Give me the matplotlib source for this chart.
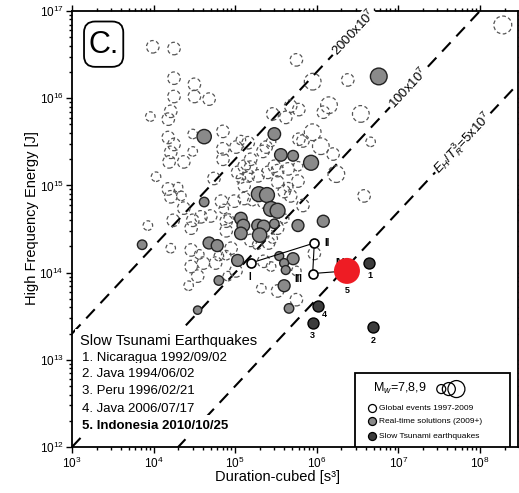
import numpy as np
import matplotlib
matplotlib.use("Agg")
import matplotlib.pyplot as plt
from matplotlib.patches import Rectangle, FancyBboxPatch

plt.rcParams["font.family"] = ["Liberation Sans", "DejaVu Sans"]
plt.rcParams["mathtext.fontset"] = "custom"
plt.rcParams["mathtext.rm"] = "Liberation Sans"
plt.rcParams["mathtext.it"] = "Liberation Sans:italic"
plt.rcParams["mathtext.bf"] = "Liberation Sans:bold"

# log10 of duration-cubed [s^3] and high-frequency energy [J], plus Mw
# Global events 1997-2009 (open circles)
global_logT3 = [3.99, 4.25, 4.25, 4.50, 4.50, 4.25, 4.68, 4.21, 4.18, 3.96,
                4.48, 4.18, 4.25, 4.21, 4.48, 4.19, 4.37, 4.85, 4.85, 4.85,
                5.07, 5.16, 4.03, 4.18, 4.30, 4.21, 4.34, 4.37, 4.24, 3.93,
                4.48, 4.58, 4.70, 4.46, 4.21, 4.46, 4.56, 4.46, 4.54, 4.43,
                4.74, 4.83, 4.86, 4.99, 5.11, 5.21, 5.11, 5.19, 5.07, 5.11,
                5.03, 5.16, 5.28, 5.19, 4.89, 4.92, 4.89, 4.61, 4.76, 4.80,
                5.19, 5.27, 5.41, 5.46, 4.95, 4.89, 5.01, 4.91, 5.35, 5.44,
                5.52, 5.60, 5.60, 5.68, 5.65, 5.77, 5.40, 5.52, 5.65, 5.48,
                5.77, 5.52, 5.35, 5.83, 5.75, 5.95, 6.38, 8.28, 5.68, 5.78,
                6.15, 6.08, 6.54, 5.62, 5.46, 5.95, 5.83, 6.05, 6.20, 6.24,
                5.34, 5.44, 6.66, 6.58, 5.97, 5.75, 5.52, 5.32, 5.75, 5.01,
                5.38, 5.78]
global_logE = [16.59, 16.57, 16.23, 16.16, 16.02, 16.02, 15.99, 15.85, 15.76, 15.79,
               15.59, 15.55, 15.47, 15.38, 15.39, 15.27, 15.27, 15.62, 15.42, 15.30,
               15.52, 15.49, 15.10, 14.96, 14.98, 14.87, 14.88, 14.74, 14.60, 14.54,
               14.60, 14.64, 14.65, 14.51, 14.28, 14.26, 14.21, 14.07, 13.96, 13.85,
               15.08, 14.82, 14.73, 14.82, 14.85, 14.82, 15.22, 15.21, 15.08, 15.00,
               15.15, 15.11, 15.11, 15.30, 14.59, 14.62, 14.48, 14.11, 14.11, 14.19,
               14.37, 14.32, 14.34, 14.39, 14.28, 14.20, 14.02, 13.96, 14.13, 14.07,
               14.51, 14.62, 14.93, 14.88, 14.98, 15.05, 15.15, 15.17, 15.19, 15.22,
               15.22, 15.04, 14.81, 14.77, 16.44, 16.19, 16.21, 16.84, 15.91, 15.87,
               15.92, 15.84, 15.82, 15.78, 15.82, 15.61, 15.51, 15.45, 15.36, 15.13,
               15.39, 15.50, 15.50, 14.88, 14.22, 13.69, 13.79, 13.82, 14.02, 15.44,
               15.44, 15.53]
global_mw = [7.5, 7.5, 7.5, 7.5, 7.5, 7.5, 7.5, 7.5, 7.5, 7.0,
             7.0, 7.5, 7.5, 7.5, 7.0, 7.5, 7.5, 7.5, 7.5, 7.5,
             7.0, 7.5, 7.0, 7.5, 7.0, 7.5, 7.0, 7.5, 7.5, 7.0,
             7.5, 7.5, 7.5, 7.5, 7.0, 7.5, 7.0, 7.5, 7.5, 7.0,
             7.5, 7.5, 7.0, 7.5, 7.5, 7.0, 7.5, 7.5, 7.0, 7.5,
             7.5, 7.5, 7.5, 7.5, 7.5, 7.0, 7.5, 7.5, 7.5, 7.0,
             7.5, 7.0, 7.5, 7.0, 7.5, 7.0, 7.5, 7.0, 7.5, 7.0,
             7.5, 7.0, 7.5, 7.5, 7.0, 7.5, 7.5, 7.5, 7.5, 7.5,
             7.0, 7.5, 7.5, 7.5, 7.5, 8.2, 7.5, 8.4, 7.5, 7.5,
             8.2, 7.5, 8.2, 7.5, 7.5, 8.2, 7.5, 8.2, 7.5, 8.2,
             7.5, 7.0, 7.0, 7.5, 7.5, 7.5, 7.5, 7.0, 7.0, 7.5,
             7.5, 7.5]

# Real-time solutions (2009+), grey circles
realtime_logT3 = [4.62, 5.48, 5.56, 5.71, 5.93, 6.76, 3.86, 4.62, 5.29, 5.39,
                  5.44, 5.52, 5.07, 5.10, 5.07, 5.28, 5.35, 5.30, 5.48, 5.77,
                  6.08, 4.68, 4.78, 5.03, 5.54, 5.71, 5.60, 5.62, 4.80, 5.60,
                  5.66, 4.54]
realtime_logE = [15.56, 15.59, 15.35, 15.34, 15.26, 16.25, 14.32, 14.81, 14.90, 14.89,
                 14.73, 14.71, 14.62, 14.54, 14.45, 14.54, 14.53, 14.43, 14.56, 14.54,
                 14.59, 14.34, 14.31, 14.14, 14.19, 14.16, 14.11, 14.03, 13.91, 13.85,
                 13.59, 13.57]
realtime_mw = [7.8, 7.5, 7.5, 7.2, 7.9, 8.2, 7.0, 7.0, 7.9, 7.9,
               7.9, 7.9, 7.5, 7.5, 7.5, 7.5, 7.5, 7.8, 7.0, 7.4,
               7.4, 7.4, 7.4, 7.4, 6.9, 7.4, 6.9, 6.9, 7.0, 7.4,
               7.0, 6.8]

# Slow tsunami earthquakes 1-4
slow_logT3 = [6.64, 6.69, 5.95, 6.01]
slow_logE = [14.11, 13.38, 13.42, 13.62]
slow_ids = ["1", "2", "3", "4"]

# 2010 Indonesia event (5)
mentawai_logT3 = 6.37
mentawai_logE = 14.02

# Evolution of the real-time solutions I -> IV
stage_logT3 = [5.19, 5.97, 5.95, 6.37]
stage_logE = [14.11, 14.34, 13.99, 14.02]
stage_ids = ["I", "II", "III", "IV"]

# E/T^3 reference ratios
ratios = [2000e7, 100e7, 5e7]
ratio_text = [r"2000x10$^7$", r"100x10$^7$", r"$E_H/T_R^3$=5x10$^7$"]
ratio_label_logT3 = [6.45, 7.12, 7.79]

events = ["Slow Tsunami Earthquakes",
          "1. Nicaragua 1992/09/02",
          "2. Java 1994/06/02",
          "3. Peru 1996/02/21",
          "4. Java 2006/07/17",
          "5. Indonesia 2010/10/25"]


def area(mw):
    d = 9.5 + 6 * (np.asarray(mw) - 7)   # diameter in pixels
    return (0.72 * d) ** 2


fig = plt.figure(figsize=(5.19, 4.93), dpi=100)
ax = fig.add_axes([0.1387, 0.0932, 0.8593, 0.8844])
ax.set_xscale("log")
ax.set_yscale("log")
ax.set_xlim(1e3, 10 ** 8.466)
ax.set_ylim(1e12, 1e17)

# reference lines
xr = np.array([1e3, 10 ** 8.466])
for c, lab, lx in zip(ratios, ratio_text, ratio_label_logT3):
    ax.plot(xr, c * xr, color="black", lw=1.5, dashes=(6, 4), zorder=1)
    ax.text(10 ** lx, c * 10 ** lx, lab, rotation=47, rotation_mode="anchor",
            ha="center", va="center", fontsize=9.5, zorder=6,
            bbox=dict(fc="white", ec="none", pad=1))

ax.scatter(10 ** np.array(global_logT3), 10 ** np.array(global_logE),
           s=area(global_mw), facecolors="none", edgecolors="#555555",
           linewidths=0.9, linestyles=[(0, (3, 2))], zorder=2)

ax.scatter(10 ** np.array(realtime_logT3), 10 ** np.array(realtime_logE),
           s=area(realtime_mw), facecolors="#8a8a8a", edgecolors="#222222",
           linewidths=1.0, zorder=3)

# I -> IV path
sx = 10 ** np.array(stage_logT3)
sy = 10 ** np.array(stage_logE)
ax.plot(sx, sy, color="black", lw=0.8, zorder=4)
ax.scatter(sx[:3], sy[:3], s=(0.72 * 9) ** 2, facecolors="white",
           edgecolors="black", linewidths=1.2, zorder=5)
roman_offsets = [(-1, -10), (9, 0), (-10, -4), (-5, 6)]
for x, y, t, off in zip(sx, sy, stage_ids, roman_offsets):
    ax.annotate(t, (x, y), xytext=off, textcoords="offset points",
                ha="center", va="center", fontsize=7, fontweight="bold",
                zorder=5)

ax.scatter(10 ** np.array(slow_logT3), 10 ** np.array(slow_logE),
           s=(0.72 * 11) ** 2, facecolors="#3c3c3c", edgecolors="black",
           linewidths=1.0, zorder=6)
slow_offsets = [(1, -9), (0, -10), (0, -9), (5, -6)]
for x, y, t, off in zip(slow_logT3, slow_logE, slow_ids, slow_offsets):
    ax.annotate(t, (10 ** x, 10 ** y), xytext=off, textcoords="offset points",
                ha="center", va="center", fontsize=6.5, fontweight="bold")

ax.scatter([10 ** mentawai_logT3], [10 ** mentawai_logE], s=(0.72 * 26) ** 2,
           facecolors="#ee1c24", edgecolors="none", zorder=7)
ax.annotate("5", (10 ** mentawai_logT3, 10 ** mentawai_logE), xytext=(0, -14),
            textcoords="offset points", ha="center", va="center",
            fontsize=6.5, fontweight="bold")

# panel tag
ax.add_patch(FancyBboxPatch((0.027, 0.872), 0.088, 0.104,
                            boxstyle="round,pad=0,rounding_size=0.025",
                            transform=ax.transAxes, fc="white", ec="black",
                            lw=1.3, zorder=8))
ax.text(0.071, 0.922, "C.", transform=ax.transAxes, fontsize=22,
        ha="center", va="center", zorder=9)

# event list
ys = [0.244, 0.205, 0.167, 0.128, 0.087, 0.048]
for i, (t, y) in enumerate(zip(events, ys)):
    ax.text(0.018 if i == 0 else 0.022, y, t, transform=ax.transAxes,
            fontsize=10.5 if i == 0 else 9.5,
            fontweight="bold" if i == 5 else "normal",
            ha="left", va="center", zorder=8,
            bbox=dict(fc="white", ec="none", pad=3.5))

# legend box
ax.add_patch(Rectangle((0.635, 0.0), 0.347, 0.169, transform=ax.transAxes,
                       fc="white", ec="black", lw=1.3, zorder=8))
ax.text(0.675, 0.135, r"M$_w$=7,8,9", transform=ax.transAxes, fontsize=9,
        ha="left", va="center", zorder=9)
for fx, d in zip([0.828, 0.845, 0.862], [9, 13, 17]):
    ax.scatter([fx], [0.133], s=(0.72 * d) ** 2, transform=ax.transAxes,
               facecolors="none", edgecolors="black", linewidths=0.9,
               zorder=9, clip_on=False)
rows = [("Global events 1997-2009", "white"),
        ("Real-time solutions (2009+)", "#8a8a8a"),
        ("Slow Tsunami earthquakes", "#3c3c3c")]
for (t, fc), fy in zip(rows, [0.089, 0.059, 0.025]):
    ax.scatter([0.672], [fy], s=(0.72 * 8) ** 2, transform=ax.transAxes,
               facecolors=fc, edgecolors="black", linewidths=0.9, zorder=9)
    ax.text(0.688, fy, t, transform=ax.transAxes, fontsize=6,
            ha="left", va="center", zorder=9)

ax.tick_params(which="both", direction="out", top=True, right=True,
               labelsize=8.5, width=1.0, pad=1.5)
ax.tick_params(which="major", length=4.5)
ax.tick_params(which="minor", length=2.5)
for sp in ax.spines.values():
    sp.set_linewidth(1.3)

ax.set_xlabel("Duration-cubed [s³]", fontsize=10.5)
ax.set_ylabel("High Frequency Energy [J]", fontsize=10.5)
ax.xaxis.set_label_coords(0.46, -0.053)
ax.yaxis.set_label_coords(-0.074, 0.525)

fig.savefig("out.png", dpi=100)
